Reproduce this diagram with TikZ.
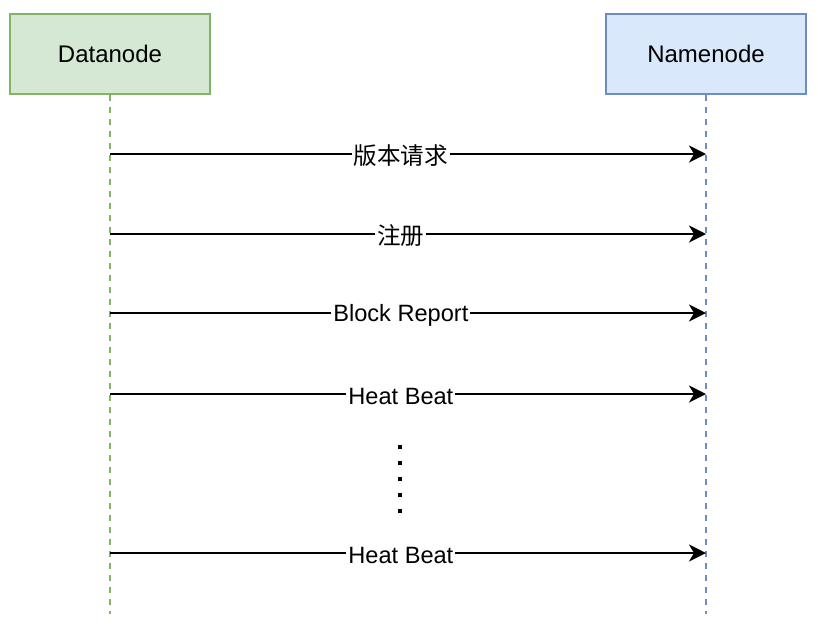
\documentclass[tikz,border=0pt]{standalone}
\usepackage{fontspec}
\setmainfont{Liberation Sans}
\newfontfamily\cjk{Noto Sans CJK SC}
\usepackage{tikz}
\usetikzlibrary{
    arrows.meta,
    calc,
    positioning
}
\definecolor{dngreen}{HTML}{82B366}
\definecolor{dnfill}{HTML}{D5E8D4}
\definecolor{nnblue}{HTML}{6C8EBF}
\definecolor{nnfill}{HTML}{DAE8FC}
\tikzset
{
  actor/.style={draw,line width=1pt,minimum width=100pt,minimum height=40pt,font=\fontsize{12}{14}\selectfont},
  databox/.style={actor,draw=dngreen,fill=dnfill},
  namebox/.style={actor,draw=nnblue,fill=nnfill},
  lifeline/.style={line width=1pt,dash pattern=on 3pt off 3pt},
  msg/.style={draw=black,line width=1pt,-{Stealth[length=8.5pt,width=8.5pt,inset=2.5pt]}},
  msglabel/.style={pos=0.488,fill=white,inner sep=1pt,font=\fontsize{11.8}{14}\selectfont}
}
\begin{document}
\begin{tikzpicture}[x=0.5pt,y=-0.5pt]
        \useasboundingbox (0,0) rectangle (818,628);

        % Draw the two actors
        \node[databox] (datanode) at (110,54) {Datanode};
        \node[namebox] (namenode) at (706,54) {Namenode};

        % Draw lifelines
        \coordinate (dnend) at (110,614);
        \coordinate (nnend) at (706,614);
        \draw[lifeline,dngreen] (datanode.south) -- (dnend);
        \draw[lifeline,nnblue] (namenode.south) -- (nnend);

        % Draw messages
        \foreach \i/\y/\txt in {1/154/{\cjk 版本请求},2/234/{\cjk 注册},3/313/{Block Report},4/394/{Heat Beat},5/553/{Heat Beat}}
        {
            \coordinate (src\i) at (110,\y);
            \coordinate (dst\i) at (706,\y);
            \draw[msg] (src\i) -- (dst\i) node[msglabel,yshift=-1pt] {\txt};
        }

        % Vertical dots between the heart beats
        \coordinate (dottop) at (400,445);
        \coordinate (dotbot) at (400,513);
        \draw[line width=2pt,dash pattern=on 2pt off 6pt] (dottop) -- (dotbot);
    \end{tikzpicture}
\end{document}
